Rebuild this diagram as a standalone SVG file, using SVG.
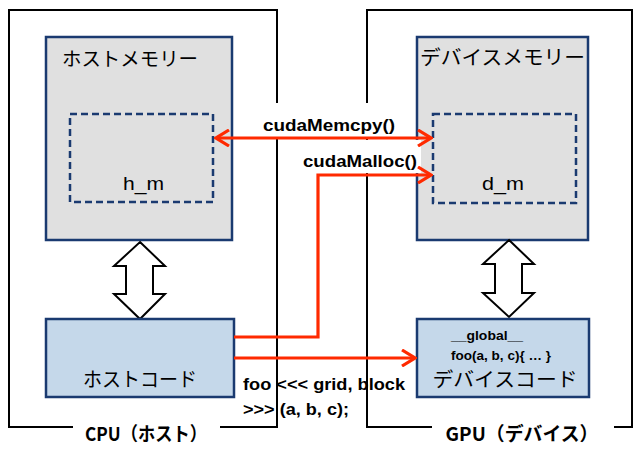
<svg xmlns="http://www.w3.org/2000/svg" width="642" height="456" viewBox="0 0 642 456">
<defs>
<style>
.outer{fill:none;stroke:#000;stroke-width:2}
.mem{fill:#e0e0e0;stroke:#1a3a70;stroke-width:2.5}
.dash{fill:none;stroke:#1a3a70;stroke-width:2.5;stroke-dasharray:7 4}
.code{fill:#c5d8ea;stroke:#1a3a70;stroke-width:2.5}
.dbl{fill:#fff;stroke:#000;stroke-width:2;stroke-linejoin:miter}
.red{fill:none;stroke:#ff2a00;stroke-width:3.2}
.jp{font-family:"Noto Sans CJK JP","Noto Sans",sans-serif;fill:#000}
.lat{font-family:"Liberation Sans","DejaVu Sans",sans-serif;fill:#000}
.b{font-weight:bold}
.bg{fill:#fff}
</style>
<marker id="ah" viewBox="0 0 16 18" refX="14" refY="9" markerUnits="userSpaceOnUse" markerWidth="16" markerHeight="18" orient="auto-start-reverse">
<path d="M1,1 L14,9 L1,17" fill="none" stroke="#ff2a00" stroke-width="3.2"/>
</marker>
</defs>

<g id="cpu">
<path class="outer" d="M73,427 H9 V10 H277 V427 H220"/>
<text class="jp b" x="146" y="441" font-size="19" text-anchor="middle" textLength="122" lengthAdjust="spacingAndGlyphs">CPU（ホスト）</text>
</g>
<g id="gpu">
<path class="outer" d="M432,427 H367 V10 H632 V427 H614"/>
<text class="jp b" x="522" y="441" font-size="19" text-anchor="middle" textLength="153" lengthAdjust="spacingAndGlyphs">GPU（デバイス）</text>
</g>

<g id="host-memory">
<rect class="mem" x="46" y="37" width="186" height="203"/>
<text class="jp" x="62" y="66" font-size="19.5" textLength="136" lengthAdjust="spacingAndGlyphs">ホストメモリー</text>
</g>
<g id="h_m">
<rect class="dash" x="70" y="114" width="143" height="88"/>
<text class="lat" x="123" y="190" font-size="19" textLength="41" lengthAdjust="spacingAndGlyphs">h_m</text>
</g>

<g id="device-memory">
<rect class="mem" x="417" y="37" width="171" height="203"/>
<text class="jp" x="420" y="65" font-size="20" textLength="165" lengthAdjust="spacingAndGlyphs">デバイスメモリー</text>
</g>
<g id="d_m">
<rect class="dash" x="433" y="114" width="143" height="89"/>
<text class="lat" x="482" y="190" font-size="19" textLength="42" lengthAdjust="spacingAndGlyphs">d_m</text>
</g>

<g id="host-arrow">
<path class="dbl" d="M140,242 L165,266 L153,266 L153,294 L165,294 L140,319 L114,294 L126,294 L126,266 L114,266 Z"/>
</g>
<g id="device-arrow">
<path class="dbl" d="M509,240 L534,264 L522,264 L522,293 L534,293 L509,317 L483,293 L495,293 L495,264 L483,264 Z"/>
</g>

<g id="host-code">
<rect class="code" x="46" y="319" width="188" height="78"/>
<text class="jp" x="140" y="387" font-size="20" text-anchor="middle" textLength="114" lengthAdjust="spacingAndGlyphs">ホストコード</text>
</g>
<g id="device-code">
<rect class="code" x="417" y="319" width="172" height="78"/>
<text class="lat b" x="451" y="340" font-size="13" textLength="72" lengthAdjust="spacingAndGlyphs">__global__</text>
<text class="lat b" x="451" y="360" font-size="13" textLength="100" lengthAdjust="spacingAndGlyphs">foo(a, b, c){ … }</text>
<text class="jp" x="505" y="387" font-size="20" text-anchor="middle" textLength="145" lengthAdjust="spacingAndGlyphs">デバイスコード</text>
</g>

<g id="label-backgrounds">
<rect class="bg" x="256" y="103" width="150" height="34"/>
<rect class="bg" x="299" y="140" width="122" height="33"/>
</g>

<g id="connectors">
<line class="red" x1="216" y1="138" x2="431" y2="138" marker-start="url(#ah)" marker-end="url(#ah)"/>
<polyline class="red" points="234,337 318,337 318,175 431,175" marker-end="url(#ah)"/>
<line class="red" x1="234" y1="358" x2="415" y2="358" marker-end="url(#ah)"/>
</g>

<g id="connector-labels">
<text class="lat b" x="263" y="131" font-size="17" textLength="132" lengthAdjust="spacingAndGlyphs">cudaMemcpy()</text>
<text class="lat b" x="303" y="167" font-size="17" textLength="114" lengthAdjust="spacingAndGlyphs">cudaMalloc()</text>
<text class="lat b" x="243" y="390" font-size="17" textLength="162" lengthAdjust="spacingAndGlyphs">foo &lt;&lt;&lt; grid, block</text>
<text class="lat b" x="243" y="415" font-size="17" textLength="106" lengthAdjust="spacingAndGlyphs">&gt;&gt;&gt; (a, b, c);</text>
</g>
</svg>
